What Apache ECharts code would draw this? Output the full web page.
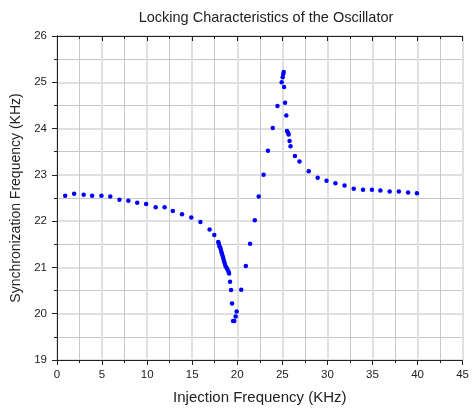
<!DOCTYPE html>
<html>
<head>
<meta charset="utf-8">
<script src="https://cdn.jsdelivr.net/npm/echarts@6/dist/echarts.min.js"></script>
<style>
  html, body { margin: 0; padding: 0; background: #fff; }
  #chart { width: 472px; height: 411px; }
</style>
</head>
<body>
<div id="chart"></div>
<script>
// injection frequency (KHz) and measured synchronization frequency (KHz)
var injFreq = [
  0.91, 1.9, 2.96, 3.9, 4.93, 5.91, 6.93, 7.92, 8.9, 9.89,
  10.95, 11.94, 12.85, 13.87, 14.9, 15.91, 16.93, 17.45, 17.89,
  17.96, 18.03, 18.10, 18.18, 18.25, 18.32, 18.40, 18.47, 18.54, 18.62,
  18.69, 18.80, 18.90, 19.01, 19.09, 19.20, 19.31, 19.42,
  19.93, 19.82, 19.67, 19.53,
  20.44, 20.95, 21.42, 21.94, 22.38, 22.92, 23.4, 23.94, 24.46,
  24.93, 25.04, 25.1, 25.15, 25.19, 25.3, 25.44, 25.52, 25.63, 25.7, 25.8, 25.91,
  26.4, 26.9, 27.93, 28.92, 29.9, 30.89, 31.9, 32.92, 33.95, 34.94,
  35.88, 36.91, 37.93, 38.95, 39.93
];
var syncFreq = [
  22.55, 22.59, 22.57, 22.55, 22.55, 22.53, 22.46, 22.44, 22.40, 22.37,
  22.30, 22.30, 22.22, 22.15, 22.08, 21.98, 21.82, 21.70, 21.55,
  21.51, 21.46, 21.43, 21.38, 21.33, 21.28, 21.23, 21.18, 21.13, 21.08,
  21.03, 21.00, 20.96, 20.92, 20.87, 20.69, 20.51, 20.22,
  20.05, 19.94, 19.84, 19.84,
  20.52, 21.03, 21.51, 22.02, 22.53, 23.00, 23.52, 24.01, 24.49,
  25.00, 25.11, 25.18, 25.22, 24.90, 24.56, 24.28, 23.95, 23.91, 23.87, 23.73, 23.62,
  23.41, 23.29, 23.08, 22.94, 22.87, 22.82, 22.77, 22.70, 22.68, 22.68,
  22.66, 22.64, 22.64, 22.62, 22.60
];

var points = injFreq.map(function (x, i) { return [x, syncFreq[i]]; });

var font = 'Liberation Sans, Arial, sans-serif';
var axisColor = '#222';

var myChart = echarts.init(document.getElementById('chart'));
var option = {
  backgroundColor: '#fff',
  animation: false,
  title: {
    text: 'Locking Characteristics of the Oscillator',
    left: 261,
    top: 5,
    textAlign: 'center',
    textStyle: { fontFamily: font, fontSize: 14.5, fontWeight: 'normal', color: '#222' }
  },
  grid: { left: 57, right: 5, top: 36, bottom: 51 },
  xAxis: [{
    type: 'value',
    min: 0, max: 45, interval: 5,
    name: 'Injection Frequency (KHz)',
    nameLocation: 'middle',
    nameGap: 30,
    nameTextStyle: { fontFamily: font, fontSize: 15, color: '#222' },
    axisLine: { show: true, lineStyle: { color: axisColor, width: 1 } },
    axisTick: { show: true, length: 5, lineStyle: { color: axisColor } },
    minorTick: { show: true, splitNumber: 2, length: 3, lineStyle: { color: axisColor } },
    axisLabel: { fontFamily: font, fontSize: 11.5, color: '#222', margin: 9 },
    splitLine: { show: true, lineStyle: { color: '#e0e0e0', width: 2 } },
    minorSplitLine: { show: true, lineStyle: { color: '#c8c8c8', width: 1 } }
  }, {
    type: 'value',
    position: 'top',
    min: 0, max: 45, interval: 5,
    axisLine: { show: true, lineStyle: { color: axisColor, width: 1 } },
    axisTick: { show: true, inside: true, length: 5, lineStyle: { color: axisColor } },
    minorTick: { show: true, splitNumber: 2, length: 3, lineStyle: { color: axisColor } },
    axisLabel: { show: false },
    splitLine: { show: false }
  }],
  yAxis: [{
    type: 'value',
    min: 19, max: 26, interval: 1,
    name: 'Synchronization Frequency (KHz)',
    nameLocation: 'middle',
    nameGap: 34,
    nameTextStyle: { fontFamily: font, fontSize: 14, color: '#222' },
    axisLine: { show: true, lineStyle: { color: axisColor, width: 1 } },
    axisTick: { show: true, length: 5, lineStyle: { color: axisColor } },
    minorTick: { show: true, splitNumber: 2, length: 3, lineStyle: { color: axisColor } },
    axisLabel: { fontFamily: font, fontSize: 11.5, color: '#222', margin: 10 },
    splitLine: { show: true, lineStyle: { color: '#e0e0e0', width: 2 } },
    minorSplitLine: { show: true, lineStyle: { color: '#c8c8c8', width: 1 } }
  }, {
    type: 'value',
    position: 'right',
    min: 19, max: 26, interval: 1,
    axisLine: { show: true, lineStyle: { color: axisColor, width: 1 } },
    axisTick: { show: true, inside: true, length: 5, lineStyle: { color: axisColor } },
    minorTick: { show: true, splitNumber: 2, length: 3, lineStyle: { color: axisColor } },
    axisLabel: { show: false },
    splitLine: { show: false }
  }],
  series: [{
    type: 'scatter',
    xAxisIndex: 0,
    yAxisIndex: 0,
    symbol: 'circle',
    symbolSize: 4.5,
    itemStyle: { color: '#0000ff', opacity: 1 },
    data: points
  }]
};
myChart.setOption(option);
</script>
</body>
</html>
